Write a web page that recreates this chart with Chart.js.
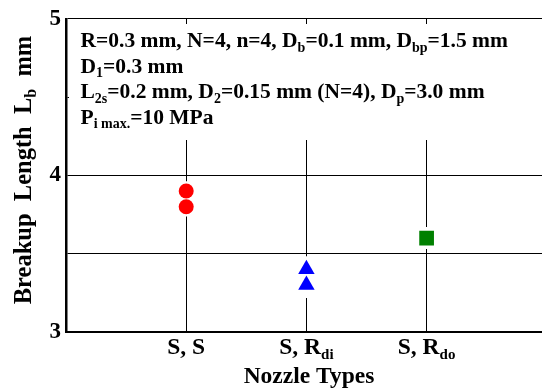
<!DOCTYPE html>
<html>
<head>
<meta charset="utf-8">
<script src="https://cdn.jsdelivr.net/npm/chart.js@4.4.0/dist/chart.umd.min.js"></script>
<style>
  body { margin: 0; background: #fff; }
  canvas { display: block; }
</style>
</head>
<body>
<canvas id="chart" width="542" height="390"></canvas>
<script>
// nozzle types on the x axis (main text + subscript)
var categories = ['S, S', 'S, R', 'S, R'];
var categorySubs = ['', 'di', 'do'];
var categoryPos = [1, 2, 3];

// breakup length Lb (mm) for each nozzle type
var ssValues = [3.9, 3.8];
var srdiValues = [3.4, 3.3];
var srdoValues = [3.6];

var yTicks = [3, 3.5, 4, 4.5, 5];

var FONT = '"Liberation Serif", serif';

function pts(x, list) {
    return list.map(function (v) { return { x: x, y: v }; });
}

/* draw a line of text made of [text, isSubscript] runs */
function drawRuns(ctx, runs, x, y, size, align) {
    var subSize = Math.round(size * 0.64);
    var w = 0;
    runs.forEach(function (r) {
        ctx.font = 'bold ' + (r[1] ? subSize : size) + 'px ' + FONT;
        w += ctx.measureText(r[0]).width;
    });
    var cx = align == 'center' ? x - w / 2 : x;
    ctx.textBaseline = 'alphabetic';
    ctx.textAlign = 'left';
    runs.forEach(function (r) {
        ctx.font = 'bold ' + (r[1] ? subSize : size) + 'px ' + FONT;
        ctx.fillText(r[0], cx, r[1] ? y + size * 0.22 : y);
        cx += ctx.measureText(r[0]).width;
    });
}

var noteLines = [
    [['R=0.3 mm, N=4, n=4, D'], ['b', 1], ['=0.1 mm, D'], ['bp', 1], ['=1.5 mm']],
    [['D'], ['1', 1], ['=0.3 mm']],
    [['L'], ['2s', 1], ['=0.2 mm, D'], ['2', 1], ['=0.15 mm (N=4), D'], ['p', 1], ['=3.0 mm']],
    [['P'], ['i max.', 1], ['=10 MPa']]
];

var textPlugin = {
    id: 'texts',
    afterDraw: function (chart) {
        var ctx = chart.ctx;
        var xs = chart.scales.x;
        ctx.save();
        ctx.fillStyle = '#000';

        // x tick labels with subscripts
        for (var i = 0; i < categories.length; i++) {
            var runs = [[categories[i]]];
            if (categorySubs[i]) runs.push([categorySubs[i], 1]);
            drawRuns(ctx, runs, xs.getPixelForValue(categoryPos[i]), 354, 23.5, 'center');
        }

        // axis titles
        drawRuns(ctx, [['Nozzle Types']], 309, 383, 23.5, 'center');
        ctx.save();
        ctx.translate(31, 170);
        ctx.rotate(-Math.PI / 2);
        drawRuns(ctx, [['Breakup  Length  L'], ['b', 1], ['  mm']], 0, 0, 24.5, 'center');
        ctx.restore();

        // parameter note box
        ctx.fillStyle = '#fff';
        ctx.fillRect(69, 24, 473, 116);
        ctx.fillStyle = '#000';
        var base = [47, 72.5, 98, 123.5];
        for (var j = 0; j < noteLines.length; j++) {
            drawRuns(ctx, noteLines[j], 80.5, base[j], 21.5, 'left');
        }
        ctx.restore();
    }
};

var ctx = document.getElementById('chart').getContext('2d');
var chart = new Chart(ctx, {
    type: 'scatter',
    data: {
        datasets: [{
            data: pts(categoryPos[0], ssValues),
            pointStyle: 'circle', pointRadius: 7.5,
            backgroundColor: '#ff0000', borderWidth: 0, order: 1
        }, {
            data: pts(categoryPos[1], srdiValues),
            pointStyle: 'triangle', pointRadius: 9.5,
            backgroundColor: '#0000ff', borderWidth: 0, order: 1
        }, {
            data: pts(categoryPos[2], srdoValues),
            pointStyle: 'rect', pointRadius: 10.4,
            backgroundColor: '#008000', borderWidth: 0, order: 1
        }, {
            // white backing behind the markers
            data: pts(categoryPos[0], ssValues),
            pointStyle: 'rect', pointRadius: 14,
            backgroundColor: '#fff', borderWidth: 0, order: 2
        }, {
            data: pts(categoryPos[1], srdiValues),
            pointStyle: 'rect', pointRadius: 18.5,
            backgroundColor: '#fff', borderWidth: 0, order: 2
        }, {
            data: pts(categoryPos[2], srdoValues),
            pointStyle: 'rect', pointRadius: 15.5,
            backgroundColor: '#fff', borderWidth: 0, order: 2
        }]
    },
    options: {
        responsive: false,
        animation: false,
        layout: { autoPadding: false, padding: { top: 16, right: 0, left: 0, bottom: 0 } },
        plugins: { legend: { display: false }, tooltip: { enabled: false } },
        scales: {
            x: {
                type: 'linear',
                min: 0,
                max: 3.96,
                afterBuildTicks: function (axis) {
                    axis.ticks = [0].concat(categoryPos).map(function (v) { return { value: v }; });
                },
                afterFit: function (scale) { scale.height = 58; },
                ticks: { display: false },
                grid: { color: '#000', lineWidth: 1, drawTicks: false },
                border: { color: '#000', width: 2 }
            },
            y: {
                min: 3,
                max: 5,
                afterBuildTicks: function (axis) {
                    axis.ticks = yTicks.map(function (v) { return { value: v }; });
                },
                afterFit: function (scale) { scale.width = 66; },
                ticks: {
                    color: '#000',
                    padding: 5,
                    font: { family: FONT, size: 23, weight: 'bold' },
                    callback: function (v) { return v % 1 === 0 ? v : ''; }
                },
                grid: { color: '#000', lineWidth: 1, drawTicks: false },
                border: { color: '#000', width: 2.5 }
            }
        }
    },
    plugins: [textPlugin]
});
</script>
</body>
</html>
